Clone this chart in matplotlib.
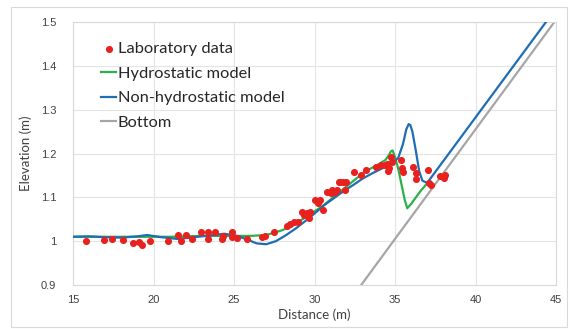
import matplotlib.pyplot as plt
from matplotlib.patches import Rectangle

# laboratory measurements (distance m, elevation m)
lab_x = [15.8, 16.9, 17.4, 18.1, 18.7, 19.07, 19.3, 19.8, 20.9, 21.5, 21.7, 22.0,
         22.4, 22.97, 23.4, 23.4, 23.8, 24.25, 24.3, 24.87, 24.87, 25.2, 25.8, 26.74,
         26.95, 27.5, 28.3, 28.5, 28.7, 29.0, 29.2, 29.33, 29.54, 29.64, 29.75, 30.06,
         30.2, 30.37, 30.5, 30.8, 31.0, 31.1, 31.3, 31.4, 31.5, 31.6, 31.8, 31.9,
         31.98, 32.44, 32.86, 33.17, 33.8, 34.1, 34.4, 34.5, 34.55, 34.6, 34.73, 34.8,
         35.35, 35.45, 35.5, 36.14, 36.28, 36.28, 37.05, 37.1, 37.26, 37.8, 38.09, 38.05]
lab_y = [1.001, 1.002, 1.005, 1.003, 0.995, 0.998, 0.992, 1.000, 1.001, 1.014, 1.001, 1.014,
         1.005, 1.021, 1.021, 1.006, 1.021, 1.006, 1.012, 1.021, 1.009, 1.008, 1.006, 1.010,
         1.011, 1.021, 1.034, 1.039, 1.044, 1.044, 1.067, 1.059, 1.065, 1.052, 1.067, 1.094,
         1.086, 1.094, 1.071, 1.113, 1.109, 1.116, 1.113, 1.116, 1.135, 1.135, 1.135, 1.116,
         1.135, 1.158, 1.151, 1.162, 1.170, 1.174, 1.174, 1.177, 1.160, 1.166, 1.193, 1.181,
         1.186, 1.166, 1.158, 1.170, 1.155, 1.141, 1.162, 1.133, 1.127, 1.148, 1.151, 1.143]

# hydrostatic model
hyd_x = [15, 17, 19, 21, 23, 25, 26, 27, 28, 28.5, 29, 29.5, 30, 30.5, 31, 31.5, 32,
         32.5, 33, 33.5, 34, 34.4, 34.6, 34.75, 34.85, 35.0, 35.2, 35.4, 35.6, 35.76,
         36.0, 36.3, 36.6, 37.0]
hyd_y = [1.010, 1.010, 1.010, 1.010, 1.012, 1.012, 1.012, 1.014, 1.025, 1.033, 1.044,
         1.056, 1.068, 1.080, 1.095, 1.110, 1.125, 1.140, 1.155, 1.166, 1.176, 1.185,
         1.195, 1.205, 1.207, 1.192, 1.165, 1.130, 1.095, 1.075, 1.085, 1.100, 1.115, 1.132]

# non-hydrostatic model
nh_x = [15, 16, 17, 18, 19, 19.6, 20.5, 21.5, 22.5, 23.5, 24.4, 25.2, 25.8, 26.4, 27.0,
        27.6, 28.2, 28.8, 29.4, 30, 30.6, 31.2, 31.8, 32.4, 33, 33.6, 34.2, 34.8, 35.2,
        35.5, 35.7, 35.85, 35.95, 36.08, 36.3, 36.5, 36.7, 37.0, 44.5]
nh_y = [1.010, 1.011, 1.009, 1.008, 1.011, 1.014, 1.009, 1.005, 1.009, 1.013, 1.017,
        1.012, 1.004, 0.995, 0.993, 1.000, 1.013, 1.028, 1.045, 1.063, 1.082, 1.098,
        1.114, 1.128, 1.143, 1.155, 1.166, 1.177, 1.190, 1.222, 1.255, 1.267, 1.265,
        1.250, 1.205, 1.160, 1.138, 1.133, 1.506]

# bottom profile
bot_x = [32.5, 45.5]
bot_y = [0.880, 1.530]

plt.rcParams['font.family'] = ['Lato', 'DejaVu Sans']

fig = plt.figure(figsize=(5.70, 3.29), dpi=100)
ax = fig.add_axes([73/570, 1-285/329, (556-73)/570, (285-22)/329])

ax.scatter(lab_x, lab_y, s=26, color='#e8201e', zorder=4, label='Laboratory data', linewidths=0)
ax.plot(hyd_x, hyd_y, color='#2bb04a', lw=1.6, zorder=3, label='Hydrostatic model')
ax.plot(nh_x, nh_y, color='#1f6db5', lw=1.6, zorder=3, label='Non-hydrostatic model')
ax.plot(bot_x, bot_y, color='#a6a6a6', lw=1.6, zorder=2, label='Bottom')

ax.set_xlim(15, 45)
ax.set_ylim(0.9, 1.5)
ax.set_xticks([15, 20, 25, 30, 35, 40, 45])
ax.set_xticklabels(['15', '20', '25', '30', '35', '40', '45'], family='Liberation Sans')
ax.set_yticks([0.9, 1.0, 1.1, 1.2, 1.3, 1.4, 1.5])
ax.set_yticklabels(['0.9', '1', '1.1', '1.2', '1.3', '1.4', '1.5'], family='Liberation Sans')
ax.tick_params(axis='both', length=0, labelsize=8, colors='#404040')
ax.tick_params(axis='y', pad=12)
ax.tick_params(axis='x', pad=7)
ax.grid(True, color='#e4e4e4', lw=0.8)
ax.set_axisbelow(True)
for s in ax.spines.values():
    s.set_color('#d9d9d9')
    s.set_linewidth(0.8)

ax.set_xlabel('Distance (m)', fontsize=9.5, color='#404040', labelpad=3)
ax.set_ylabel('Elevation (m)', fontsize=9.5, color='#404040', labelpad=6)

leg = ax.legend(loc='upper left', bbox_to_anchor=(0.045, 0.95), frameon=False, fontsize=11.8,
                handlelength=0.9, handletextpad=0.1, labelspacing=0.62, borderaxespad=0)
for t in leg.get_texts():
    t.set_color('#262626')

fig.patches.append(Rectangle((11/570, 1-327/329), 556/570, 320/329, transform=fig.transFigure,
                             fill=False, edgecolor='#d9d9d9', lw=0.8))

fig.savefig('out.png', dpi=100)
